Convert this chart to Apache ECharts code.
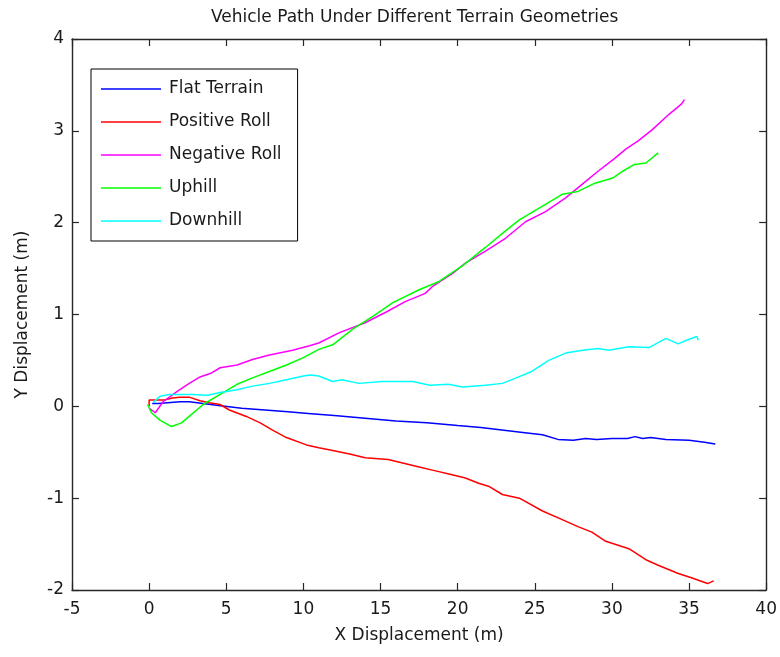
<!DOCTYPE html>
<html>
<head>
<meta charset="utf-8">
<title>Vehicle Path Under Different Terrain Geometries</title>
<script src="https://cdn.jsdelivr.net/npm/echarts@6/dist/echarts.min.js"></script>
<style>
  html, body { margin: 0; padding: 0; background: #fff; }
  #chart { width: 780px; height: 657px; }
</style>
</head>
<body>
<div id="chart"></div>
<script>
// Path samples: [x displacement (m), y displacement (m)]
const flatTerrain = [
  [0.2, 0.03], [0.6, 0.03], [1.2, 0.04], [2.0, 0.05], [2.6, 0.05], [3.5, 0.03], [4.5, 0.01],
  [6.0, -0.02], [7.5, -0.04], [9.0, -0.06], [10.5, -0.08], [12.0, -0.10], [14.0, -0.13],
  [16.0, -0.16], [18.0, -0.18], [20.0, -0.21], [21.5, -0.23], [23.0, -0.26], [24.5, -0.29],
  [25.5, -0.31], [26.5, -0.36], [27.5, -0.37], [28.3, -0.35], [29.0, -0.36], [30.0, -0.35],
  [31.0, -0.35], [31.5, -0.33], [32.0, -0.35], [32.5, -0.34], [33.5, -0.36], [35.0, -0.37],
  [36.0, -0.39], [36.7, -0.41]
];
const positiveRoll = [
  [0.0, 0.0], [0.0, 0.07], [0.5, 0.07], [1.0, 0.07], [1.5, 0.09], [2.0, 0.10], [2.6, 0.10],
  [3.3, 0.06], [3.9, 0.04], [4.6, 0.02], [5.2, -0.04], [6.3, -0.11], [7.2, -0.18], [8.0, -0.26],
  [8.9, -0.34], [10.2, -0.42], [11.0, -0.45], [11.9, -0.48], [13.0, -0.52], [14.0, -0.56],
  [15.5, -0.58], [16.5, -0.62], [17.5, -0.66], [18.5, -0.70], [19.5, -0.74], [20.5, -0.78],
  [21.4, -0.84], [22.0, -0.87], [22.9, -0.96], [24.0, -1.00], [25.5, -1.14], [27.0, -1.25],
  [27.8, -1.31], [28.7, -1.37], [29.6, -1.47], [31.1, -1.55], [32.2, -1.67], [33.0, -1.73],
  [34.3, -1.82], [35.2, -1.87], [36.2, -1.93], [36.6, -1.90]
];
const negativeRoll = [
  [0.0, -0.02], [0.4, -0.07], [0.9, 0.05], [1.8, 0.16], [2.6, 0.25], [3.3, 0.32], [4.0, 0.36],
  [4.6, 0.42], [5.7, 0.45], [6.7, 0.51], [7.8, 0.56], [9.3, 0.61], [10.4, 0.66], [11.0, 0.69],
  [12.3, 0.80], [14.0, 0.91], [15.4, 1.03], [16.6, 1.14], [17.9, 1.23], [18.4, 1.31],
  [19.7, 1.45], [20.5, 1.56], [21.8, 1.69], [23.1, 1.83], [24.4, 2.01], [25.7, 2.12],
  [27.0, 2.27], [28.3, 2.45], [29.1, 2.56], [30.1, 2.69], [30.9, 2.80], [31.7, 2.89],
  [32.6, 3.01], [33.7, 3.18], [34.5, 3.29], [34.7, 3.34]
];
const uphill = [
  [-0.1, 0.02], [0.15, -0.07], [0.7, -0.15], [1.45, -0.22], [2.1, -0.18], [2.6, -0.11],
  [3.5, 0.02], [4.6, 0.13], [5.7, 0.24], [6.7, 0.31], [7.8, 0.38], [8.9, 0.45], [10.0, 0.53],
  [11.0, 0.62], [11.9, 0.67], [13.2, 0.84], [14.5, 0.98], [15.8, 1.13], [17.5, 1.27],
  [18.8, 1.36], [20.3, 1.53], [21.8, 1.73], [23.1, 1.91], [24.0, 2.03], [25.5, 2.18],
  [26.8, 2.31], [27.8, 2.34], [28.9, 2.43], [30.1, 2.49], [30.7, 2.56], [31.4, 2.63],
  [32.2, 2.65], [33.0, 2.76]
];
const downhill = [
  [0.26, 0.04], [0.7, 0.11], [1.3, 0.13], [2.8, 0.13], [3.8, 0.12], [4.6, 0.15], [5.7, 0.18],
  [6.7, 0.22], [7.8, 0.25], [8.9, 0.29], [10.0, 0.33], [10.4, 0.34], [11.0, 0.33], [11.9, 0.27],
  [12.5, 0.29], [13.6, 0.25], [15.1, 0.27], [17.1, 0.27], [18.2, 0.23], [19.4, 0.24],
  [20.3, 0.21], [21.8, 0.23], [22.9, 0.25], [23.8, 0.31], [24.8, 0.38], [25.9, 0.50],
  [27.0, 0.58], [28.1, 0.61], [29.1, 0.63], [29.8, 0.61], [31.1, 0.65], [32.4, 0.64],
  [33.5, 0.74], [34.3, 0.68], [35.0, 0.73], [35.5, 0.76], [35.6, 0.72]
];

const seriesNames = ['Flat Terrain', 'Positive Roll', 'Negative Roll', 'Uphill', 'Downhill'];
const seriesData = [flatTerrain, positiveRoll, negativeRoll, uphill, downhill];
const seriesColors = ['#0000ff', '#ff0000', '#ff00ff', '#00ff00', '#00ffff'];

const xTicks = { min: -5, max: 40, interval: 5 };
const yTicks = { min: -2, max: 4, interval: 1 };

const FONT = 'DejaVu Sans';
const INK = '#1a1a1a';
const AXIS_COLOR = '#262626';

function frameAxis(range, position, showLabels, extra) {
  return Object.assign({
    type: 'value',
    position: position,
    min: range.min,
    max: range.max,
    interval: range.interval,
    axisLine: { show: true, onZero: false, lineStyle: { color: AXIS_COLOR, width: 1.4 } },
    axisTick: { show: true, inside: true, length: 7, lineStyle: { color: AXIS_COLOR, width: 1.2 } },
    axisLabel: { show: showLabels, color: INK, fontFamily: FONT, fontSize: 17 },
    splitLine: { show: false }
  }, extra || {});
}

const chart = echarts.init(document.getElementById('chart'), null, { renderer: 'canvas' });

chart.setOption({
  backgroundColor: '#ffffff',
  animation: false,
  title: {
    text: 'Vehicle Path Under Different Terrain Geometries',
    left: 206,
    top: 4,
    textStyle: { fontFamily: FONT, fontSize: 17, fontWeight: 'normal', color: INK }
  },
  grid: { left: 72, right: 12, top: 39, bottom: 67, containLabel: false },
  legend: {
    data: seriesNames,
    orient: 'vertical',
    left: 91,
    top: 69,
    icon: 'rect',
    itemWidth: 60,
    itemHeight: 1.5,
    itemGap: 13,
    padding: [10, 16, 10, 10],
    backgroundColor: '#ffffff',
    borderColor: '#000000',
    borderWidth: 1,
    borderRadius: 0,
    selectedMode: false,
    textStyle: { fontFamily: FONT, fontSize: 17, color: INK, lineHeight: 20, padding: [0, 0, 0, 3] }
  },
  xAxis: [
    frameAxis(xTicks, 'bottom', true, {
      name: 'X Displacement (m)',
      nameLocation: 'middle',
      nameGap: 37,
      nameTextStyle: { fontFamily: FONT, fontSize: 17, color: INK },
      axisLabel: { show: true, color: INK, fontFamily: FONT, fontSize: 17, margin: 11 }
    }),
    frameAxis(xTicks, 'top', false)
  ],
  yAxis: [
    frameAxis(yTicks, 'left', true, {
      name: 'Y Displacement (m)',
      nameLocation: 'middle',
      nameGap: 41,
      nameTextStyle: { fontFamily: FONT, fontSize: 17, color: INK },
      axisLabel: { show: true, color: INK, fontFamily: FONT, fontSize: 17, margin: 8 }
    }),
    frameAxis(yTicks, 'right', false)
  ],
  series: seriesNames.map(function (name, i) {
    return {
      name: name,
      type: 'line',
      xAxisIndex: 0,
      yAxisIndex: 0,
      data: seriesData[i],
      showSymbol: false,
      symbol: 'none',
      smooth: false,
      z: 2,
      itemStyle: { color: seriesColors[i] },
      lineStyle: { color: seriesColors[i], width: 1.5 },
      emphasis: { disabled: true }
    };
  })
});
</script>
</body>
</html>
